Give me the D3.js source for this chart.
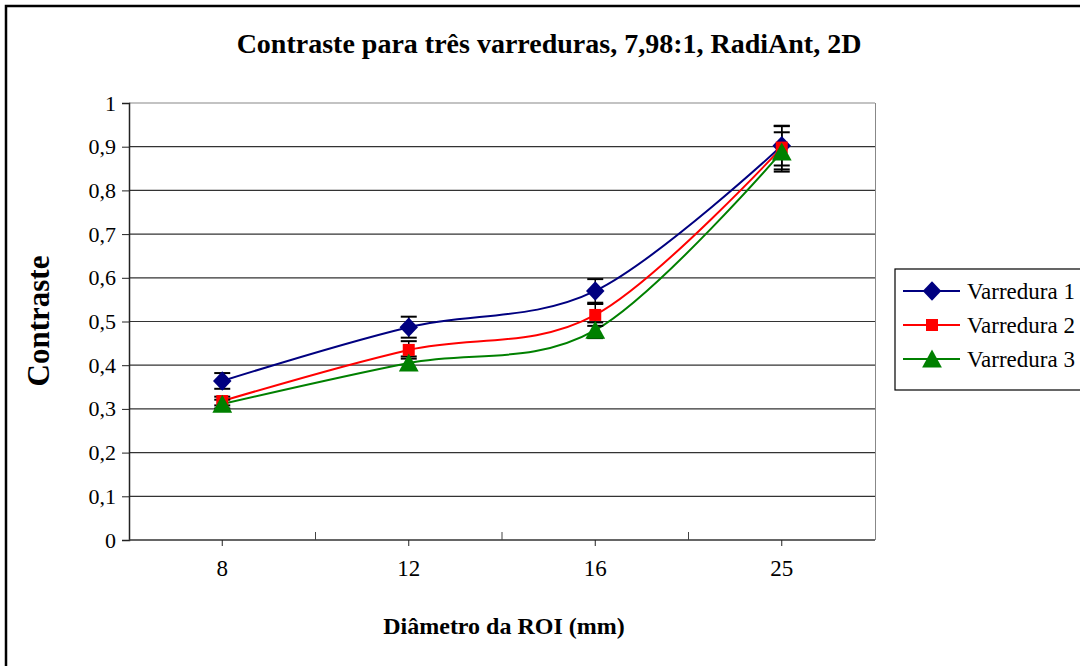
<!DOCTYPE html>
<html><head><meta charset="utf-8">
<script src="https://cdn.jsdelivr.net/npm/d3@7"></script>
<style>body{margin:0;background:#fff}svg{display:block}text{font-family:'Liberation Serif','Times New Roman',serif}</style>
</head><body>
<svg id="c" width="1080" height="666"></svg>
<script>
const categories = ["8","12","16","25"];
const seriesNames = ["Varredura 1","Varredura 2","Varredura 3"];
const v1 = [0.364,0.487,0.570,0.902];
const v2 = [0.318,0.435,0.515,0.898];
const v3 = [0.311,0.405,0.480,0.888];
const e1 = [0.018,0.024,0.027,0.045];
const e2 = [0.010,0.020,0.025,0.050];
const e3 = [0.010,0.015,0.018,0.045];
const yTicks = [0,0.1,0.2,0.3,0.4,0.5,0.6,0.7,0.8,0.9,1];
const yTickLabels = ["0","0,1","0,2","0,3","0,4","0,5","0,6","0,7","0,8","0,9","1"];
const colors = ["#000080","#ff0000","#008000"];

const diamond = {draw(ctx,size){const r=Math.sqrt(size)/2*1.3;ctx.moveTo(0,-r);ctx.lineTo(r*0.95,0);ctx.lineTo(0,r);ctx.lineTo(-r*0.95,0);ctx.closePath();}};
const square = {draw(ctx,size){const r=Math.sqrt(size)/2;ctx.rect(-r,-r,2*r,2*r);}};
const triangle = {draw(ctx,size){const r=Math.sqrt(size)/2;ctx.moveTo(0,-r*1.05);ctx.lineTo(r*1.1,r*0.95);ctx.lineTo(-r*1.1,r*0.95);ctx.closePath();}};
const symbols = [diamond, square, triangle];
const symSizes = [225, 144, 324];

const svg = d3.select("#c");
const font = "'Liberation Serif','Times New Roman',serif";
const L=129, R=875, T=103, B=540;

svg.append("rect").attr("x",6).attr("y",6).attr("width",1090).attr("height",680)
  .attr("fill","#fff").attr("stroke","#000").attr("stroke-width",2.5);

const x = d3.scaleBand().domain(categories).range([L,R]).padding(0);
const y = d3.scaleLinear().domain([0,1]).range([B,T]);

svg.append("g").selectAll("line").data(yTicks.slice(1)).join("line")
  .attr("x1",L).attr("x2",R).attr("y1",d=>y(d)).attr("y2",d=>y(d))
  .attr("stroke",d=>d===1?"#888":"#333").attr("stroke-width",1.2);
svg.append("line").attr("x1",R+0.5).attr("x2",R+0.5).attr("y1",T).attr("y2",B).attr("stroke","#888");

const ya = svg.append("g").attr("transform",`translate(${L},0)`)
  .call(d3.axisLeft(y).tickValues(yTicks).tickFormat((d,i)=>yTickLabels[i]).tickSize(7).tickPadding(6));
ya.attr("font-family",null);
ya.select(".domain").attr("stroke","#222").attr("stroke-width",1.5);
ya.selectAll(".tick line").attr("stroke","#222");
ya.selectAll("text").attr("font-family",font).attr("font-size",22).attr("fill","#000");

svg.append("line").attr("x1",L).attr("x2",R).attr("y1",B).attr("y2",B).attr("stroke","#333").attr("stroke-width",1.5);
const xa = svg.append("g").attr("transform",`translate(0,${B})`)
  .call(d3.axisBottom(x).tickSize(6).tickPadding(14));
xa.attr("font-family",null);
xa.select(".domain").remove();
xa.selectAll(".tick line").attr("stroke","#222");
xa.selectAll("text").attr("font-family",font).attr("font-size",23).attr("fill","#000");
svg.append("g").selectAll("line").data(categories.slice(1)).join("line")
  .attr("x1",d=>x(d)).attr("x2",d=>x(d)).attr("y1",B).attr("y2",B-8).attr("stroke","#444");

const all = [v1,v2,v3], errs=[e1,e2,e3];
const line = d3.line().x((d,i)=>x(categories[i])+x.bandwidth()/2).y(d=>y(d)).curve(d3.curveCatmullRom.alpha(0));

all.forEach((vals,s)=>{
  svg.append("path").datum(vals).attr("d",line).attr("fill","none")
    .attr("stroke",colors[s]).attr("stroke-width",2);
});
all.forEach((vals,s)=>{
  const g = svg.append("g");
  vals.forEach((v,i)=>{
    const cx = x(categories[i])+x.bandwidth()/2;
    const e = errs[s][i];
    g.append("line").attr("x1",cx).attr("x2",cx).attr("y1",y(v+e)).attr("y2",y(v-e)).attr("stroke","#000").attr("stroke-width",1.5);
    [v+e,v-e].forEach(yy=>g.append("line").attr("x1",cx-8).attr("x2",cx+8).attr("y1",y(yy)).attr("y2",y(yy)).attr("stroke","#000").attr("stroke-width",2));
  });
});
all.forEach((vals,s)=>{
  svg.append("g").selectAll("path").data(vals).join("path")
    .attr("transform",(d,i)=>`translate(${x(categories[i])+x.bandwidth()/2},${y(d)})`)
    .attr("d",d3.symbol().type(symbols[s]).size(symSizes[s])).attr("fill",colors[s]);
});

svg.append("text").attr("x",549).attr("y",53).attr("text-anchor","middle")
  .attr("font-family",font).attr("font-weight","bold").attr("font-size",28)
  .text("Contraste para três varreduras, 7,98:1, RadiAnt, 2D");
svg.append("text").attr("x",504).attr("y",634).attr("text-anchor","middle")
  .attr("font-family",font).attr("font-weight","bold").attr("font-size",24)
  .text("Diâmetro da ROI (mm)");
svg.append("text").attr("transform","translate(49,321) rotate(-90)").attr("text-anchor","middle")
  .attr("font-family",font).attr("font-weight","bold").attr("font-size",31)
  .text("Contraste");

const lg = svg.append("g");
lg.append("rect").attr("x",895).attr("y",269).attr("width",200).attr("height",121)
  .attr("fill","#fff").attr("stroke","#000").attr("stroke-width",1.2);
seriesNames.forEach((n,s)=>{
  const yy = 291 + s*34;
  lg.append("line").attr("x1",903).attr("x2",960).attr("y1",yy).attr("y2",yy).attr("stroke",colors[s]).attr("stroke-width",2);
  lg.append("path").attr("transform",`translate(932,${yy})`).attr("d",d3.symbol().type(symbols[s]).size(symSizes[s])).attr("fill",colors[s]);
  lg.append("text").attr("x",967).attr("y",yy+8).attr("font-family",font).attr("font-size",23).text(n);
});
</script>
</body></html>
